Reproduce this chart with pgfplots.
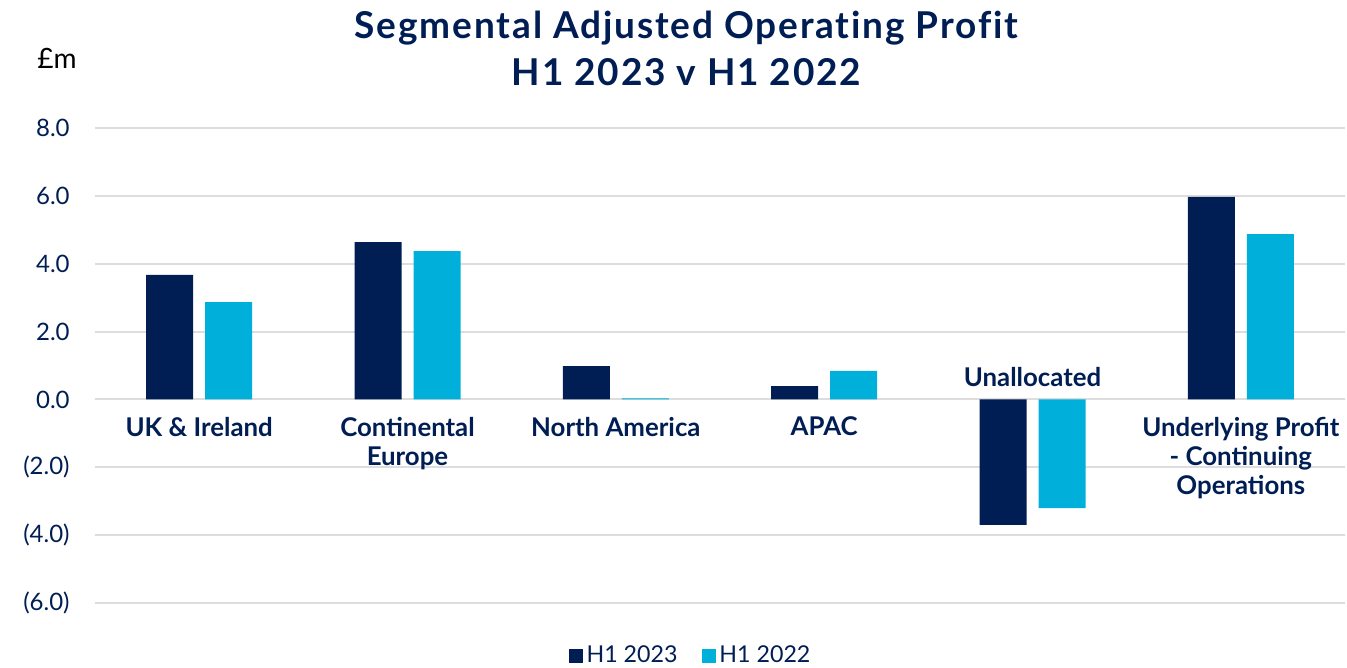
\documentclass[border=0pt]{standalone}
\usepackage{fontspec}
\setmainfont{Lato}
\newfontfamily\titlefont[LetterSpace=5,Ligatures=NoCommon]{Lato}
\usepackage{pgfplots}
\pgfplotsset{compat=1.18}
\definecolor{navy}{HTML}{001E54}
\definecolor{cyanbar}{HTML}{00B0DB}
\definecolor{gridgrey}{HTML}{DDDDDD}
\tikzset{catlab/.style={font=\bfseries\fontsize{12.9bp}{14.5bp}\selectfont, text=navy, align=center, inner sep=0pt}}

\begin{document}
\begin{tikzpicture}[x=1bp,y=1bp]
\begin{axis}[
  at={(0,0)}, anchor=south west,
  scale only axis, width=625bp, height=237.5bp,
  ybar=6bp, bar width=23.5bp,
  xmin=-0.5, xmax=5.5, ymin=-6, ymax=8,
  axis line style={draw=none},
  xtick=\empty,
  ytick={-6,-4,...,8},
  yticklabels={(6.0),(4.0),(2.0),0.0,2.0,4.0,6.0,8.0},
  yticklabel style={font=\fontsize{12bp}{14bp}\selectfont, text=navy, anchor=east, inner sep=0pt, xshift=-12.5bp},
  major tick length=0pt,
  ymajorgrids, grid style={gridgrey, line width=1bp},
  legend style={at={(0.4772,-0.1116)}, anchor=center, draw=none, fill=none,
    legend columns=2, font=\fontsize{11.6bp}{13bp}\selectfont, text=navy,
    /tikz/every even column/.append style={column sep=10bp}},
  legend image code/.code={\fill[#1,draw=none] (0bp,-3.5bp) rectangle (7bp,3.5bp);},
]
\addplot[fill=navy, draw=none] coordinates {(0,3.67) (1,4.64) (2,0.98) (3,0.39) (4,-3.70) (5,5.97)};
\addlegendentry{H1 2023}
\addplot[fill=cyanbar, draw=none] coordinates {(0,2.87) (1,4.37) (2,0.03) (3,0.84) (4,-3.20) (5,4.87)};
\addlegendentry{H1 2022}

\node[catlab, anchor=north, yshift=-8.5bp] at (axis cs:0,0) {UK \& Ireland};
\node[catlab, anchor=north, yshift=-8.5bp] at (axis cs:1,0) {Continental\\Europe};
\node[catlab, anchor=north, yshift=-8.5bp] at (axis cs:2,0) {North America};
\node[catlab, anchor=north, yshift=-8.5bp] at (axis cs:3,0) {APAC};
\node[catlab, anchor=base, yshift=6.5bp] at (axis cs:4,0) {Unallocated};
\node[catlab, anchor=north, yshift=-8.5bp] at (axis cs:5,0) {Underlying Profit\\- Continuing\\Operations};
\end{axis}

\node[anchor=base, inner sep=0pt, text=navy, font=\titlefont\bfseries\fontsize{18.5bp}{21bp}\selectfont] at (295.75,282.5) {Segmental Adjusted Operating Profit};
\node[anchor=base, inner sep=0pt, text=navy, font=\titlefont\bfseries\fontsize{18.5bp}{21bp}\selectfont] at (295.75,259) {H1 2023 v H1 2022};
\node[anchor=base west, inner sep=0pt, font=\fontsize{14bp}{16bp}\selectfont] at (-29,267.5) {£m};

\pgfresetboundingbox
\path[use as bounding box] (-47.5,-32) rectangle (626,301.5);
\end{tikzpicture}
\end{document}
